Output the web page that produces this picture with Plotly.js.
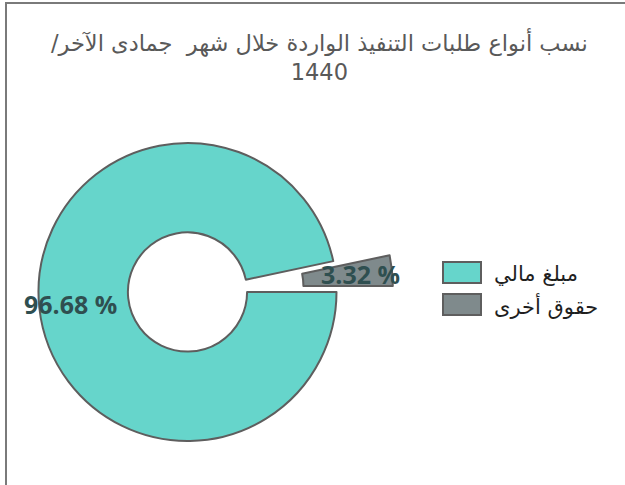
<!DOCTYPE html>
<html><head><meta charset="utf-8">
<script src="https://cdn.plot.ly/plotly-3.0.1.min.js"></script>
<style>html,body{margin:0;padding:0;background:#fff}#c{width:625px;height:485px}</style>
</head><body><div id="c"></div>
<script>
// ---- data ----
const categories = ["مبلغ مالي", "حقوق أخرى"];
const values = [96.68, 3.32];
const colors = ["#66D5CB", "#7F8A8C"];
const titleText = "نسب أنواع طلبات التنفيذ الواردة خلال شهر  جمادى الآخر/\u200F<br>1440";

// ---- layout constants (pixels) ----
const W = 625, H = 485;
const cx = 187.5, cy = 292, R = 149, holeFrac = 0.40;
const pullFrac = 0.38, labelFrac = 0.79;
const rotation = 90; // degrees clockwise from 12 o'clock
const lineCol = "#5E5E5E";
const px = x => x / W, py = y => 1 - y / H;

const total = values.reduce((a, b) => a + b, 0);
let acc = 0;
const mids = values.map(v => { const m = rotation + 360 * (acc + v / 2) / total; acc += v; return m * Math.PI / 180; });
const dirVec = a => [Math.sin(a), -Math.cos(a)];

const pulledIdx = 1;
const pv = dirVec(mids[pulledIdx]);
const off = [pv[0] * pullFrac * R, pv[1] * pullFrac * R];

function domainFor(x0, y0) {
  return { x: [px(x0 - R), px(x0 + R)], y: [py(y0 + R), py(y0 - R)] };
}
const transp = "rgba(0,0,0,0)";

const base = {
  type: "pie", labels: categories, values: values, sort: false,
  direction: "clockwise", rotation: rotation, hole: holeFrac,
  textinfo: "none", showlegend: false, hoverinfo: "label+percent"
};
const traceMain = Object.assign({}, base, {
  domain: domainFor(cx, cy),
  marker: { colors: values.map((v, i) => i === pulledIdx ? transp : colors[i]),
            line: { color: values.map((v, i) => i === pulledIdx ? transp : lineCol), width: 2 } }
});
const tracePulled = Object.assign({}, base, {
  domain: domainFor(cx + off[0], cy + off[1]),
  marker: { colors: values.map((v, i) => i === pulledIdx ? colors[i] : transp),
            line: { color: values.map((v, i) => i === pulledIdx ? lineCol : transp), width: 2 } }
});

const annotations = values.map((v, i) => {
  const d = dirVec(mids[i]);
  const c0 = i === pulledIdx ? [cx + off[0], cy + off[1]] : [cx, cy];
  const lx = c0[0] + d[0] * labelFrac * R, ly = c0[1] + d[1] * labelFrac * R;
  return { xref: "paper", yref: "paper", x: px(lx), y: py(ly), xanchor: "center", yanchor: "middle",
           showarrow: false, text: "<b>" + (v * 100 / total).toFixed(2) + " %</b>",
           font: { family: "Open Sans, DejaVu Sans", size: 25, color: "#2F4F50" } };
});

const legX = 443, legY0 = 262, legStep = 32, boxW = 38, boxH = 21;
const shapes = [];
categories.forEach((c, i) => {
  const y0 = legY0 + i * legStep;
  shapes.push({ type: "rect", xref: "paper", yref: "paper", x0: px(legX), x1: px(legX + boxW),
                y0: py(y0 + boxH), y1: py(y0), fillcolor: colors[i], line: { color: lineCol, width: 2 } });
  annotations.push({ xref: "paper", yref: "paper", x: px(legX + boxW + 11), y: py(y0 + boxH / 2 + 1),
                     xanchor: "left", yanchor: "middle", showarrow: false, text: c,
                     font: { family: "DejaVu Sans, Open Sans", size: 21, color: "#1F1F1F" } });
});
shapes.push({ type: "line", xref: "paper", yref: "paper", x0: px(6), x1: px(6), y0: 0, y1: py(2), line: { color: "#7A7A7A", width: 2 } });
shapes.push({ type: "line", xref: "paper", yref: "paper", x0: px(5), x1: 1, y0: py(3), y1: py(3), line: { color: "#7A7A7A", width: 2 } });

const layout = {
  width: W, height: H, margin: { l: 0, r: 0, t: 0, b: 0 },
  paper_bgcolor: "#fff", plot_bgcolor: "#fff",
  title: { text: titleText, x: 0.511, xanchor: "center", yref: "paper", y: py(51), yanchor: "top",
           font: { family: "DejaVu Sans, Open Sans", size: 22.5, color: "#595959" } },
  showlegend: false, shapes: shapes, annotations: annotations
};
Plotly.newPlot("c", [traceMain, tracePulled], layout, { displayModeBar: false, staticPlot: true });
</script></body></html>
